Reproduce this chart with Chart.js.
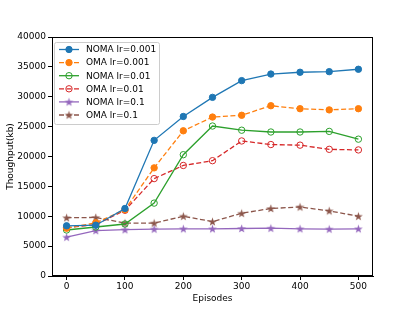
<!DOCTYPE html>
<html>
<head>
<meta charset="utf-8">
<script src="https://cdn.jsdelivr.net/npm/chart.js@4/dist/chart.umd.min.js"></script>
<style>body{margin:0;background:#fff}</style>
</head>
<body>
<canvas id="c" width="415" height="310"></canvas>
<script>
var episodes = [0, 50, 100, 150, 200, 250, 300, 350, 400, 450, 500];
var nomaLr001 = [8400, 8500, 11300, 22700, 26700, 29900, 32700, 33800, 34100, 34200, 34600];
var omaLr001 = [8000, 8900, 11100, 18100, 24300, 26600, 26900, 28500, 28000, 27800, 28000];
var nomaLr01 = [7700, 8200, 8700, 12200, 20300, 25100, 24400, 24100, 24100, 24200, 22900];
var omaLr01 = [8100, 8600, 11000, 16300, 18500, 19300, 22600, 22000, 21900, 21200, 21100];
var nomaLr1 = [6500, 7600, 7750, 7850, 7900, 7900, 7950, 8000, 7900, 7850, 7900];
var omaLr1 = [9750, 9800, 8850, 8850, 10000, 9100, 10500, 11300, 11550, 10900, 10000];
var xTicks = [0, 100, 200, 300, 400, 500];
var yTicks = [0, 5000, 10000, 15000, 20000, 25000, 30000, 35000, 40000];

var FONT = 'DejaVu Sans';
Chart.defaults.color = '#000';
Chart.defaults.font.family = FONT;
Chart.defaults.font.size = 9;

function starImg(color) {
  var s = 11, cv = document.createElement('canvas');
  cv.width = s; cv.height = s;
  var g = cv.getContext('2d');
  g.fillStyle = color;
  g.beginPath();
  for (var i = 0; i < 10; i++) {
    var r = i % 2 === 0 ? 4.6 : 1.8;
    var a = -Math.PI / 2 + i * Math.PI / 5;
    g.lineTo(s / 2 + r * Math.cos(a), s / 2 + 0.4 + r * Math.sin(a));
  }
  g.closePath();
  g.fill();
  return cv;
}

function series(label, values, color, dashed, marker) {
  var ds = {
    label: label,
    data: episodes.map(function (x, i) { return {x: x, y: values[i]}; }),
    borderColor: color,
    borderWidth: 1.3,
    borderDash: dashed ? [5, 2.5] : [],
    pointRadius: 3.2,
    pointBorderWidth: 1,
    pointBorderColor: color,
    pointBackgroundColor: color,
    marker: marker,
    tension: 0
  };
  if (marker === 'hollow') ds.pointBackgroundColor = 'rgba(0,0,0,0)';
  if (marker === 'star') { ds.pointStyle = starImg(color); }
  return ds;
}

var legendBox = {
  id: 'legendBox',
  afterDraw: function (chart) {
    var ctx = chart.ctx;
    var x0 = 54, y0 = 42, w = 105, h = 82, step = 13.1;
    ctx.save();
    ctx.beginPath();
    ctx.roundRect(x0 + 0.5, y0 + 0.5, w, h, 2);
    ctx.fillStyle = 'rgba(255,255,255,0.8)';
    ctx.fill();
    ctx.strokeStyle = '#cccccc';
    ctx.lineWidth = 1;
    ctx.stroke();
    chart.data.datasets.forEach(function (ds, i) {
      var y = 49.5 + i * step;
      ctx.beginPath();
      ctx.setLineDash(ds.borderDash);
      ctx.strokeStyle = ds.borderColor;
      ctx.lineWidth = ds.borderWidth;
      ctx.moveTo(59, y);
      ctx.lineTo(79, y);
      ctx.stroke();
      ctx.setLineDash([]);
      if (ds.marker === 'star') {
        ctx.drawImage(ds.pointStyle, 69 - 5.5, y - 5.5);
      } else {
        ctx.beginPath();
        ctx.arc(69, y, 3.2, 0, Math.PI * 2);
        if (ds.marker === 'filled') { ctx.fillStyle = ds.borderColor; ctx.fill(); }
        ctx.lineWidth = 1;
        ctx.stroke();
      }
      ctx.fillStyle = '#000';
      ctx.font = '9px "' + FONT + '"';
      ctx.textBaseline = 'middle';
      ctx.fillText(ds.label, 86, y + 0.5);
    });
    ctx.restore();
  }
};

var frame = {
  id: 'frame',
  afterDraw: function (chart) {
    var a = chart.chartArea, ctx = chart.ctx;
    ctx.save();
    ctx.strokeStyle = '#000';
    ctx.lineWidth = 1;
    ctx.strokeRect(Math.round(a.left) + 0.5, Math.round(a.top) + 0.5, Math.round(a.right - a.left) - 1, Math.round(a.bottom - a.top) - 1);
    ctx.restore();
  }
};

new Chart(document.getElementById('c'), {
  type: 'line',
  data: {
    datasets: [
      series('NOMA lr=0.001', nomaLr001, '#1f77b4', false, 'filled'),
      series('OMA lr=0.001', omaLr001, '#ff7f0e', true, 'filled'),
      series('NOMA lr=0.01', nomaLr01, '#2ca02c', false, 'hollow'),
      series('OMA lr=0.01', omaLr01, '#d62728', true, 'hollow'),
      series('NOMA lr=0.1', nomaLr1, '#9467bd', false, 'star'),
      series('OMA lr=0.1', omaLr1, '#8c564b', true, 'star')
    ]
  },
  options: {
    responsive: false,
    animation: false,
    layout: {padding: {left: 0, right: 42, top: 37, bottom: 0}},
    plugins: {legend: {display: false}, tooltip: {enabled: false}},
    scales: {
      x: {
        type: 'linear',
        min: -25,
        max: 525,
        afterBuildTicks: function (s) { s.ticks = xTicks.map(function (v) { return {value: v}; }); },
        afterFit: function (s) { s.height = 34; },
        ticks: {padding: 1, maxRotation: 0, callback: function (v) { return String(v); }},
        grid: {drawOnChartArea: false, color: '#000', tickLength: 4},
        border: {color: '#000'},
        title: {display: true, text: 'Episodes', padding: {top: 0, bottom: 6}}
      },
      y: {
        min: 0,
        max: 40000,
        afterBuildTicks: function (s) { s.ticks = yTicks.map(function (v) { return {value: v}; }); },
        afterFit: function (s) { s.width = 52; },
        ticks: {padding: 2, callback: function (v) { return String(v); }},
        grid: {drawOnChartArea: false, color: '#000', tickLength: 4},
        border: {color: '#000'},
        title: {display: true, text: 'Thoughput(kb)', padding: {top: 5, bottom: 0}}
      }
    }
  },
  plugins: [frame, legendBox]
});
</script>
</body>
</html>
